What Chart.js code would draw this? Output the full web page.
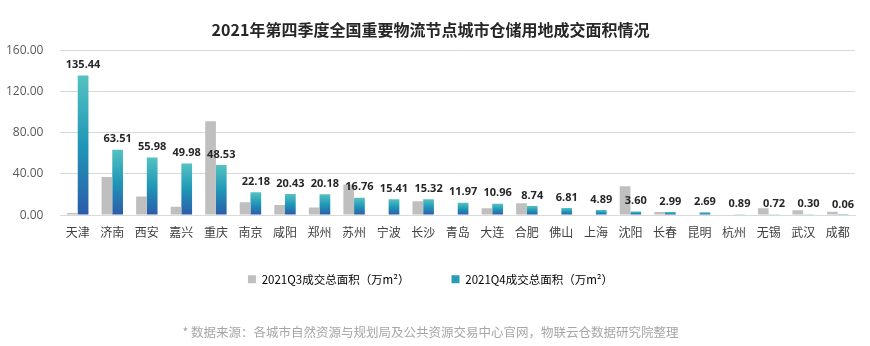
<!DOCTYPE html>
<html>
<head>
<meta charset="utf-8">
<script src="https://cdn.jsdelivr.net/npm/chart.js@4.4.1/dist/chart.umd.min.js"></script>
<style>
  html, body { margin: 0; padding: 0; background: #fff; }
  #wrap { width: 870px; height: 346px; }
</style>
</head>
<body>
<div id="wrap"><canvas id="landChart"></canvas></div>
<script>
const cities = ['天津', '济南', '西安', '嘉兴', '重庆', '南京', '咸阳', '郑州', '苏州', '宁波', '长沙', '青岛',
    '大连', '合肥', '佛山', '上海', '沈阳', '长春', '昆明', '杭州', '无锡', '武汉', '成都'];
const q3Area = [2, 37, 18, 8, 91, 12.5, 9.7, 7.4, 29.6, 0, 13.5, 0, 6.7, 11.6, 0, 0, 28, 2.9, 0, 0, 6.7, 4.8, 3.2];
const q4Area = [135.44, 63.51, 55.98, 49.98, 48.53, 22.18, 20.43, 20.18, 16.76, 15.41, 15.32, 11.97,
    10.96, 8.74, 6.81, 4.89, 3.60, 2.99, 2.69, 0.89, 0.72, 0.30, 0.06];
const yTicks = [0, 40, 80, 120, 160];

const FONT = '"Noto Sans CJK SC", "Noto Sans", sans-serif';
const NUM_FONT = '"Open Sans", "Noto Sans CJK SC", sans-serif';

// per-bar gradient, blue at the base to teal at the top
function q4Gradient(context) {
    const chart = context.chart;
    if (!chart.chartArea || context.type !== 'data') return '#2a9bb8';
    const y = chart.scales.y;
    const top = y.getPixelForValue(context.parsed.y);
    const base = y.getPixelForValue(0);
    if (!isFinite(top) || base - top < 1) return '#4fbcc0';
    const g = chart.ctx.createLinearGradient(0, base, 0, top);
    g.addColorStop(0, '#2c5ba9');
    g.addColorStop(0.5, '#1f97b7');
    g.addColorStop(1, '#55c1c1');
    return g;
}

const valueLabels = {
    id: 'valueLabels',
    afterDatasetsDraw(chart) {
        const ctx = chart.ctx;
        const meta = chart.getDatasetMeta(1);
        ctx.save();
        ctx.font = 'bold 11px ' + NUM_FONT;
        ctx.fillStyle = '#262626';
        ctx.textAlign = 'center';
        ctx.textBaseline = 'bottom';
        meta.data.forEach((bar, i) => {
            ctx.fillText(q4Area[i].toFixed(2), bar.x, bar.y - 5);
        });
        ctx.restore();
    }
};

new Chart(document.getElementById('landChart'), {
    type: 'bar',
    data: {
        labels: cities,
        datasets: [{
            label: '2021Q3成交总面积（万m²）',
            data: q3Area,
            backgroundColor: '#bfbfbf',
            categoryPercentage: 0.62,
            barPercentage: 1.0
        }, {
            label: '2021Q4成交总面积（万m²）',
            data: q4Area,
            backgroundColor: q4Gradient,
            categoryPercentage: 0.62,
            barPercentage: 1.0
        }]
    },
    options: {
        responsive: true,
        maintainAspectRatio: false,
        animation: false,
        layout: {
            padding: { left: 6, right: 15, top: 0, bottom: 6 }
        },
        plugins: {
            title: {
                display: true,
                text: '2021年第四季度全国重要物流节点城市仓储用地成交面积情况',
                color: '#262626',
                font: { family: FONT, size: 16, weight: 'bold' },
                padding: { top: 20, bottom: 11 }
            },
            subtitle: {
                display: true,
                position: 'bottom',
                text: '* 数据来源：各城市自然资源与规划局及公共资源交易中心官网，物联云仓数据研究院整理',
                color: '#a6a6a6',
                font: { family: FONT, size: 12.5 },
                padding: { top: 30, bottom: 0 }
            },
            legend: {
                display: true,
                position: 'bottom',
                labels: {
                    boxWidth: 8,
                    boxHeight: 8,
                    padding: 42,
                    color: '#595959',
                    font: { family: FONT, size: 11.5 },
                    generateLabels: (chart) => chart.data.datasets.map((ds, i) => ({
                        text: ds.label,
                        fillStyle: i === 0 ? '#bfbfbf' : '#2a9bb8',
                        strokeStyle: 'rgba(0,0,0,0)',
                        lineWidth: 0,
                        datasetIndex: i
                    }))
                }
            },
            tooltip: { enabled: false }
        },
        scales: {
            x: {
                grid: { display: false, drawTicks: false },
                border: { display: true, color: '#d9d9d9', width: 1 },
                ticks: {
                    color: '#404040',
                    font: { family: FONT, size: 12 },
                    padding: 10,
                    maxRotation: 0,
                    autoSkip: false
                },
                afterFit: (scale) => {
                    // tighter box so the legend sits closer; keep labels unclipped
                    scale.height -= 18;
                    scale._computeLabelArea = () => undefined;
                }
            },
            y: {
                min: 0,
                max: 160,
                afterBuildTicks: (axis) => { axis.ticks = yTicks.map(v => ({ value: v })); },
                grid: { color: '#d9d9d9', drawTicks: false },
                border: { display: false },
                ticks: {
                    color: '#595959',
                    font: { family: NUM_FONT, size: 12 },
                    padding: 17,
                    callback: (v) => Number(v).toFixed(2)
                },
                afterFit: (scale) => { scale.width -= 17; }
            }
        }
    },
    plugins: [valueLabels]
});
</script>
</body>
</html>
